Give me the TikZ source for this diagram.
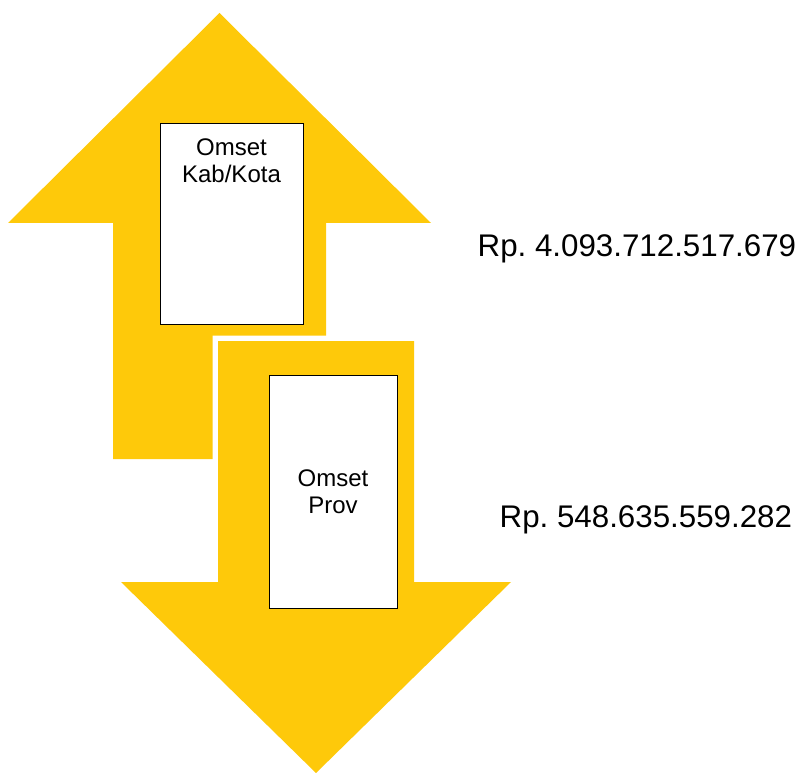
\documentclass[tikz,border=0pt]{standalone}
\usepackage{fontspec}
\setmainfont{Liberation Sans}
\frenchspacing
\definecolor{arrowyellow}{RGB}{254,201,10}
\tikzset{
  infobox/.style={draw=black, line width=1pt, fill=white, inner sep=0pt, align=center, font=\fontsize{24}{27}\selectfont},
  boxtext/.style={anchor=north, inner sep=0pt, align=center, font=\fontsize{24}{27}\selectfont},
  value/.style={anchor=base west, inner sep=0pt, font=\fontsize{31.3}{37}\selectfont}
}
\begin{document}
\begin{tikzpicture}[x=1pt,y=-1pt]
\useasboundingbox (0,0) rectangle (804,773);
% up arrow
\fill[arrowyellow] (219.5,13) -- (431,223) -- (326,223) -- (326,459) -- (113,459) -- (113,223) -- (8,223) -- cycle;
% down arrow, with a white rim where it lies on the up arrow
\fill[arrowyellow, preaction={draw=white, line width=11pt, line join=miter}] (218,341) -- (414,341) -- (414,582) -- (511,582) -- (316,773) -- (121,582) -- (218,582) -- cycle;

\node[infobox, minimum width=143pt, minimum height=200pt] (kab) at (231.5,224) {};
\node[boxtext] (kabtext) at (231.5,139) {Omset\\Kab/Kota};
\node[infobox, minimum width=128pt, minimum height=233pt] (prov) at (333,491.5) {Omset\\Prov};

\node[value] (valkab) at (477.5,257) {Rp. 4.093.712.517.679};
\node[value] (valprov) at (499.5,527) {Rp. 548.635.559.282};
\end{tikzpicture}
\end{document}
